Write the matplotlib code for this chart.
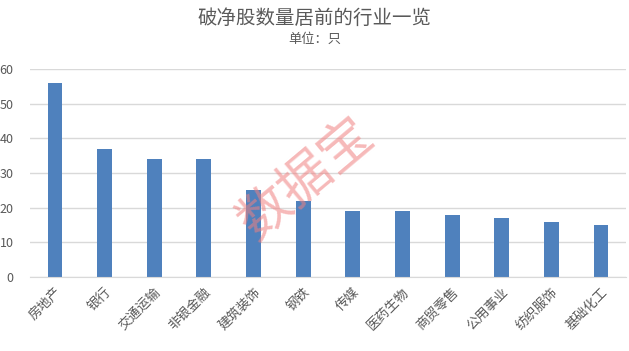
import matplotlib.pyplot as plt

plt.rcParams['font.family'] = ['Noto Sans CJK SC', 'DejaVu Sans']

industries = ['房地产', '银行', '交通运输', '非银金融', '建筑装饰', '钢铁',
              '传媒', '医药生物', '商贸零售', '公用事业', '纺织服饰', '基础化工']
counts = [56, 37, 34, 34, 25, 22, 19, 19, 18, 17, 16, 15]
yticks = [0, 10, 20, 30, 40, 50, 60]

fig = plt.figure(figsize=(6.29, 3.51), dpi=100)
ax = fig.add_axes([0.048, 0.211, 0.947, 0.592])

x = range(len(industries))
ax.bar(x, counts, width=0.3, color='#4F81BD', zorder=2)

ax.set_xlim(-0.5, len(industries) - 0.5)
ax.set_ylim(0, 60)
ax.set_yticks(yticks)
ax.grid(axis='y', color='#D9D9D9', linewidth=1, zorder=0)
for s in ['top', 'right', 'left']:
    ax.spines[s].set_visible(False)
ax.spines['bottom'].set_color('#D9D9D9')
ax.tick_params(axis='both', length=0, colors='#595959', labelsize=9)
ax.tick_params(axis='y', pad=12)
ax.tick_params(axis='x', pad=6)
ax.set_xticks(list(x))
ax.set_xticklabels(industries, rotation=45, ha='right', va='top',
                   rotation_mode='anchor', fontsize=9.5, color='#595959')

fig.text(0.5, 0.948, '破净股数量居前的行业一览', ha='center', va='center',
         fontsize=14, color='#595959')
fig.text(0.5, 0.887, '单位：只', ha='center', va='center',
         fontsize=9.5, color='#595959')

# watermark
fig.text(0.487, 0.49, '数据宝', ha='center', va='center', rotation=40,
         fontsize=38, color='#F08080', alpha=0.55)

fig.savefig('out.png', dpi=100)
